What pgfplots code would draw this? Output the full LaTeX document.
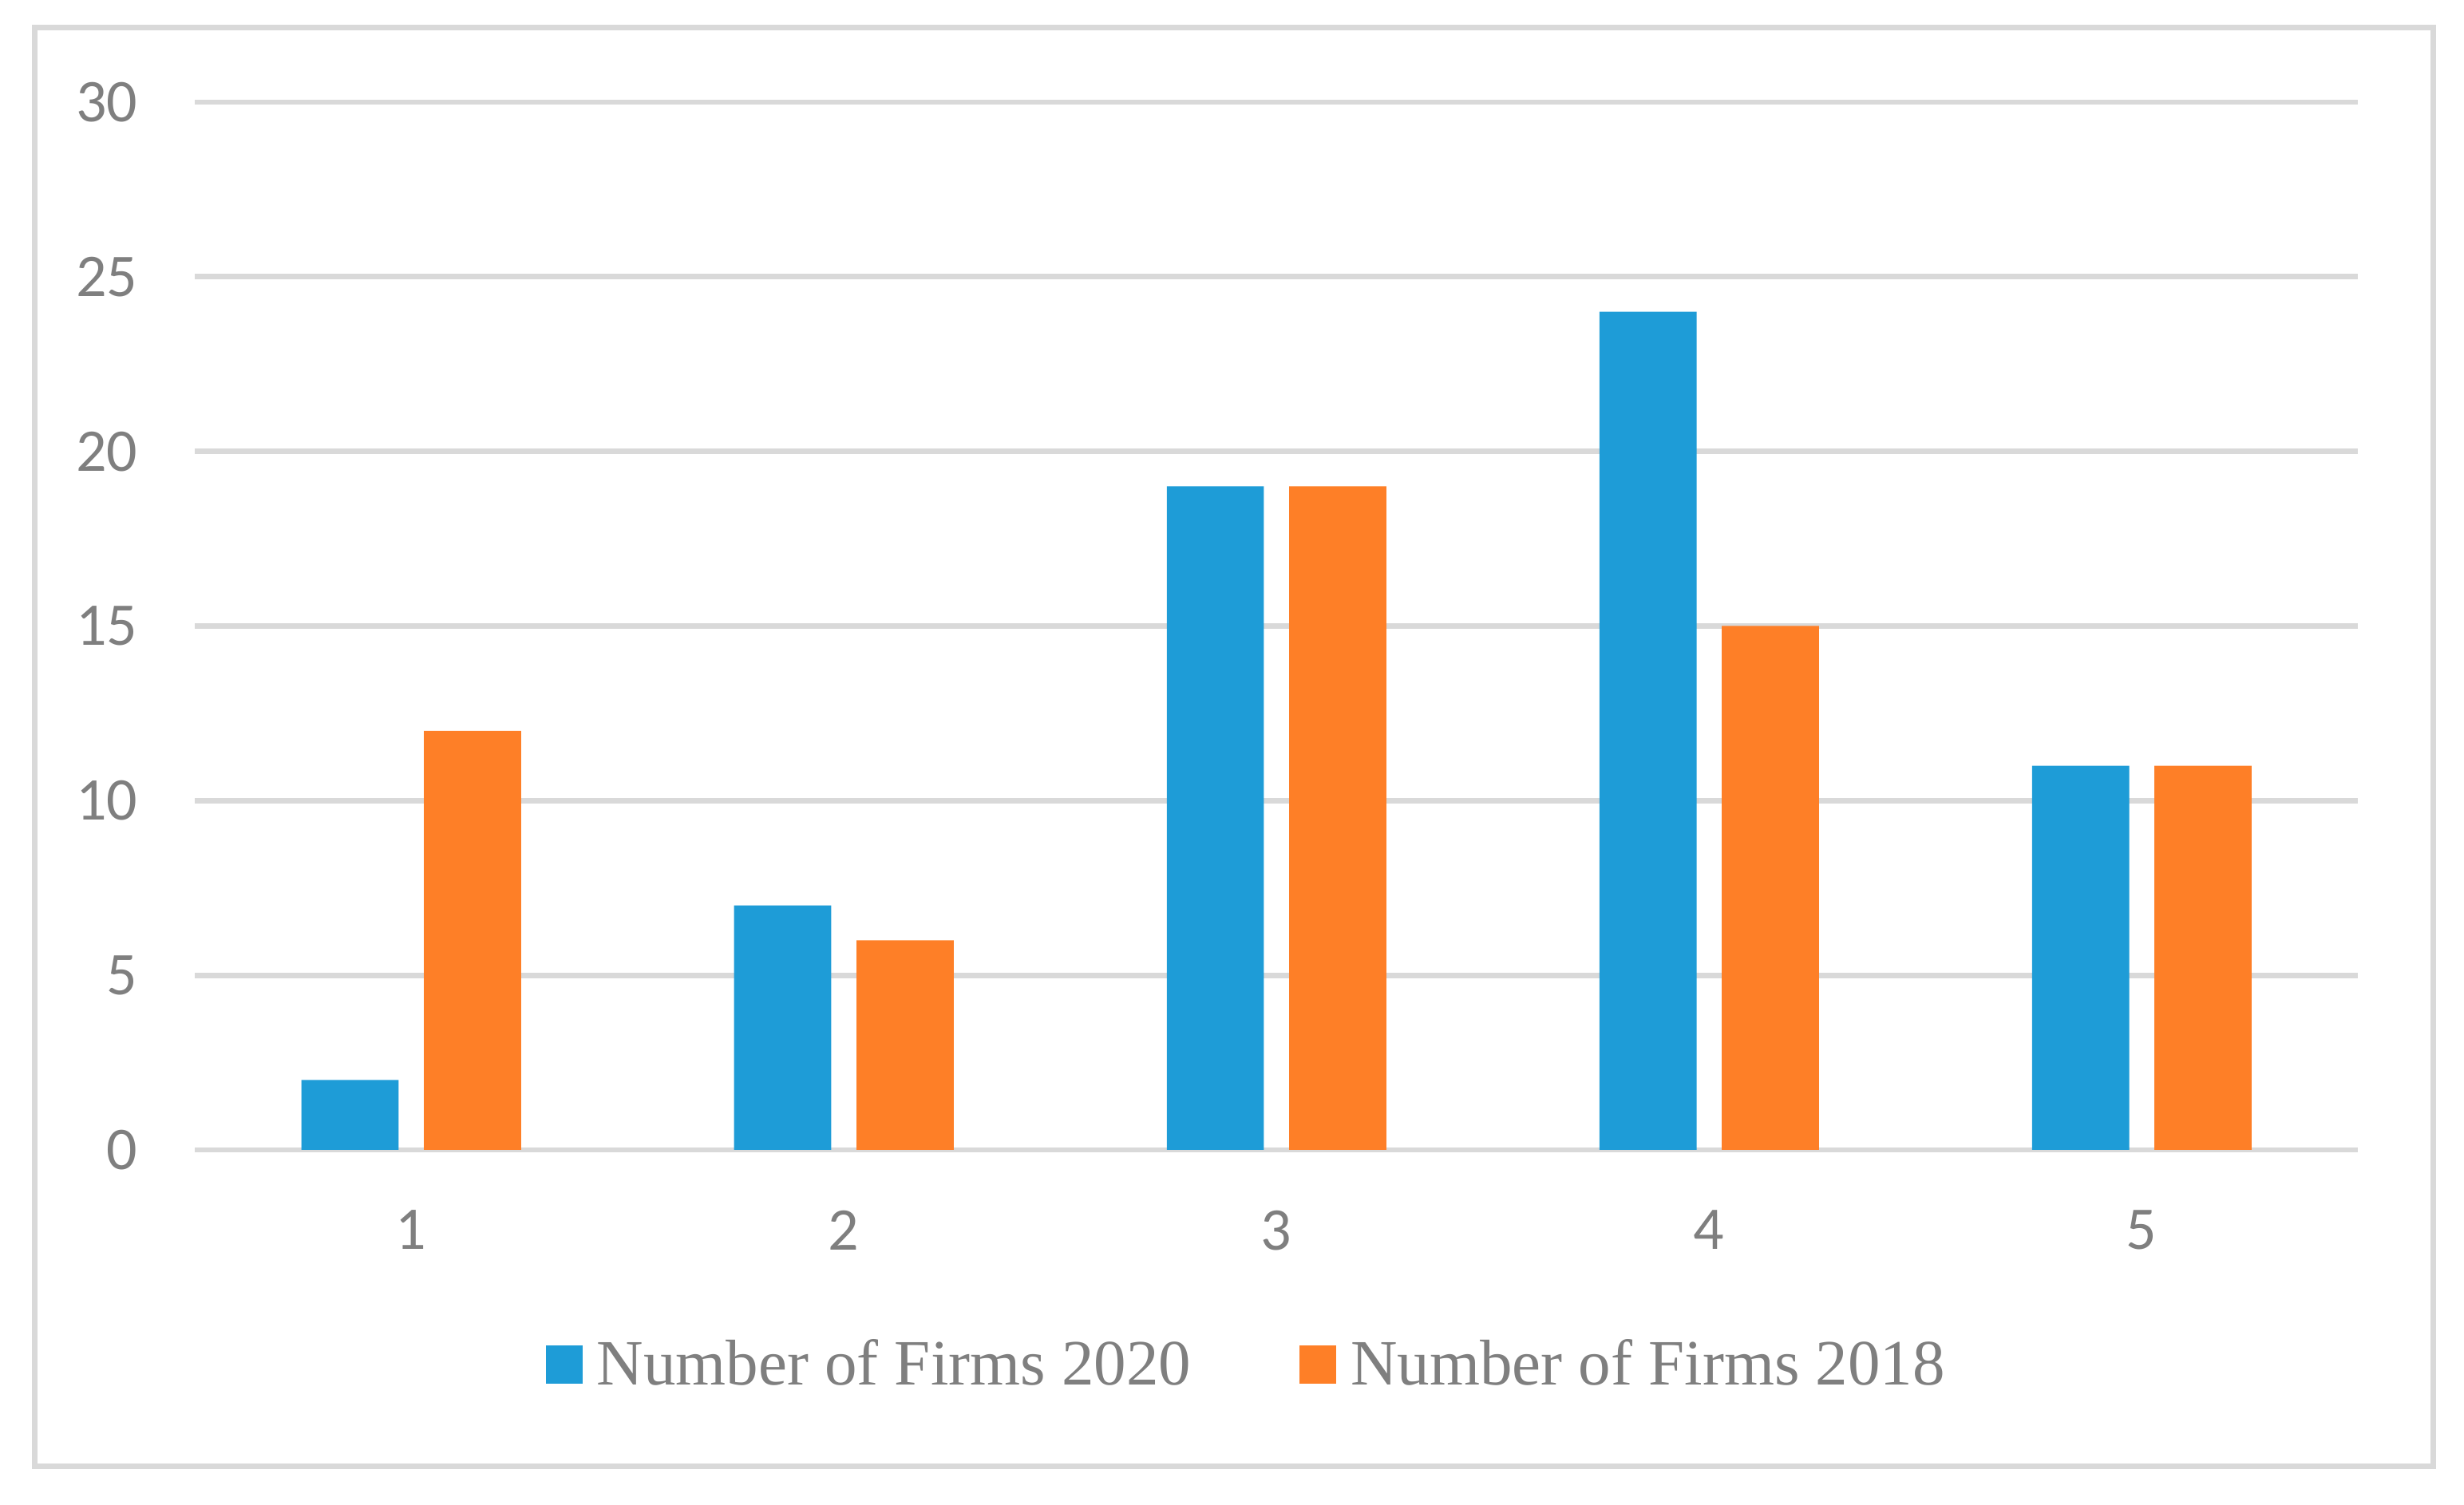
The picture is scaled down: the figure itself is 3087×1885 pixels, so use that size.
\documentclass[border=0pt]{standalone}
\usepackage{fontspec}
\usepackage{pgfplots}
\pgfplotsset{compat=1.18}
\newfontfamily\tickfont{Carlito}
\newfontfamily\legfont{Liberation Serif}
\definecolor{bblue}{HTML}{1E9CD7}
\definecolor{borange}{HTML}{FE7F27}
\definecolor{gridgray}{HTML}{D9D9D9}
\definecolor{textgray}{HTML}{7F7F7F}
\begin{document}
\begin{tikzpicture}[x=0.25bp,y=0.25bp]
  \path[use as bounding box] (0,0) rectangle (3087,1885);
  \draw[gridgray, line width=1.75bp] (43,48) rectangle (3048,1850);
  \begin{axis}[
      at={(61bp,111bp)}, anchor=south west,
      scale only axis, width=677.5bp, height=328.25bp,
      ybar, bar width=0.2246,
      xmin=0.5, xmax=5.5, ymin=0, ymax=30,
      xtick={1,2,3,4,5}, ytick={0,5,...,30},
      axis line style={draw=none},
      major tick length=0pt,
      ymajorgrids, grid style={gridgray, line width=1.675bp},
      /pgf/number format/assume math mode=true,
      tick label style={font=\tickfont\fontsize{19bp}{22bp}\selectfont, text=textgray, inner sep=0pt},
      yticklabel style={xshift=-17.75bp},
      xticklabel style={yshift=-18.75bp},
      legend columns=2,
      legend style={at={(0.1575,-0.2049)}, anchor=west, draw=none,
                    font=\legfont\fontsize{20.25bp}{24bp}\selectfont, text=textgray,
                    /tikz/every odd column/.append style={column sep=2.5bp},
                    /tikz/every even column/.append style={column sep=32bp}},
      legend image code/.code={\fill[#1] (0bp,-5.9bp) rectangle (11.5bp,5.9bp);},
    ]
    % Number of Firms 2020
    \addplot[fill=bblue, draw=none, bar shift=-0.141] coordinates {(1,2) (2,7) (3,19) (4,24) (5,11)};
    % Number of Firms 2018
    \addplot[fill=borange, draw=none, bar shift=0.142] coordinates {(1,12) (2,6) (3,19) (4,15) (5,11)};
    \legend{Number of Firms 2020, Number of Firms 2018}
  \end{axis}
\end{tikzpicture}
\end{document}
